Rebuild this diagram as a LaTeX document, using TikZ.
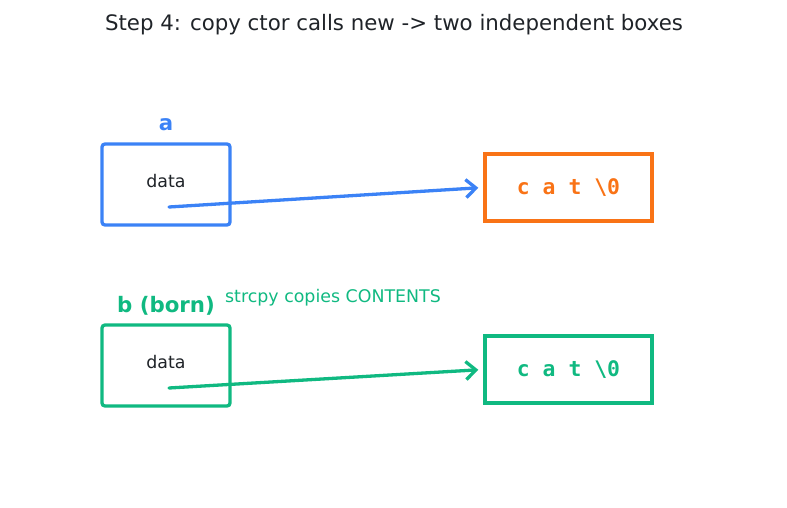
\documentclass[tikz,border=0pt]{standalone}
\usepackage{fontspec}
\setmainfont{DejaVu Sans}
\setmonofont{DejaVu Sans Mono}
\usetikzlibrary{arrows.meta}
\definecolor{ptrblue}{HTML}{3B82F6}
\definecolor{heaporange}{HTML}{F97316}
\definecolor{copygreen}{HTML}{10B981}
\definecolor{inkgray}{HTML}{1F2328}
\tikzset{
  objbox/.style={draw=#1, line width=3.3pt, rounded corners=3pt,
    minimum width=128pt, minimum height=81pt, inner sep=0pt},
  heapbox/.style={draw=#1, line width=3.3pt, minimum width=167pt,
    minimum height=67pt, inner sep=0pt, text=#1,
    font=\fontsize{21.4}{24}\selectfont\ttfamily\bfseries},
  ptr/.style={draw=#1, line width=3.3pt, line cap=round,
    -{Straight Barb[length=10pt,width=18pt,line width=3.3pt]}, shorten >=5pt},
  bigtxt/.style={font=\fontsize{21.3}{24}\selectfont},
  boldtxt/.style={font=\fontsize{21.3}{24}\selectfont\bfseries},
  smalltxt/.style={font=\fontsize{17.4}{20}\selectfont}
}
\begin{document}
\begin{tikzpicture}[x=1pt,y=-1pt]
\useasboundingbox (0,0) rectangle (787,508);
\node[bigtxt, text=inkgray] (title) at (394,25) {Step 4: copy ctor calls new -> two independent boxes};
% object a and its heap buffer
\node[objbox=ptrblue] (boxa) at (166,184.5) {};
\node[smalltxt, text=inkgray] (dataa) at ([yshift=3pt]boxa.center) {data};
\node[boldtxt, text=ptrblue] (laba) at (166,125) {a};
\node[heapbox=heaporange] (heapa) at (568.5,187.5) {\raisebox{-1pt}{c a t \textbackslash0}};
\coordinate (pa) at (169,207);
\draw[ptr=ptrblue] (pa) -- (heapa.west);
% object b, built by the copy ctor
\node[objbox=copygreen] (boxb) at (166,365.5) {};
\node[smalltxt, text=inkgray] (datab) at ([yshift=3pt]boxb.center) {data};
\node[boldtxt, text=copygreen] (labb) at (166,306) {b (born)};
\node[smalltxt, text=copygreen] (note) at (333,297.5) {strcpy copies CONTENTS};
\node[heapbox=copygreen] (heapb) at (568.5,369.5) {\raisebox{-1pt}{c a t \textbackslash0}};
\coordinate (pb) at (169,388);
\draw[ptr=copygreen] (pb) -- (heapb.west);
\end{tikzpicture}
\end{document}
